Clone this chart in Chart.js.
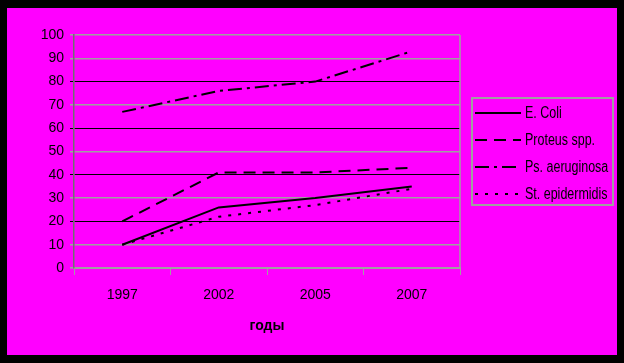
<!DOCTYPE html>
<html>
<head>
<meta charset="utf-8">
<script src="https://cdn.jsdelivr.net/npm/chart.js@4/dist/chart.umd.min.js"></script>
<style>
  body { margin: 0; background: #000; width: 624px; height: 363px; overflow: hidden; }
  #wrap { position: absolute; left: 7px; top: 8px; width: 610px; height: 347px; background: #ff00ff; }
  canvas { display: block; }
</style>
</head>
<body>
<div id="wrap"><canvas id="chart" width="610" height="347"></canvas></div>
<script>
// data
const years = ["1997", "2002", "2005", "2007"];
const eColi = [10, 26, 30, 35];
const proteus = [20, 41, 41, 43];
const psAeruginosa = [67, 76, 80, 93];
const stEpidermidis = [10, 22, 27, 34];
const seriesNames = ["E. Coli", "Proteus spp.", "Ps. aeruginosa", "St. epidermidis"];
const xTitle = "годы";

const sans = "'Liberation Sans', Arial, sans-serif";

function line(label, data, dash) {
  return {
    label: label,
    data: data,
    borderColor: "#000",
    borderWidth: 2,
    borderDash: dash,
    pointRadius: 0,
    fill: false,
    tension: 0,
  };
}

// right edge of the plot and the boxed legend
const framePlugin = {
  id: "frame",
  afterDraw(chart) {
    const ctx = chart.ctx;
    const a = chart.chartArea;
    ctx.save();
    ctx.strokeStyle = "#a0a0a0";
    ctx.lineWidth = 1.5;
    ctx.beginPath();
    ctx.moveTo(a.right, a.top);
    ctx.lineTo(a.right, a.bottom);
    ctx.stroke();

    ctx.lineWidth = 2;
    ctx.strokeRect(465, 90, 141, 107);

    chart.data.datasets.forEach(function (ds, i) {
      const y = 105 + i * 27;
      ctx.strokeStyle = "#000";
      ctx.lineWidth = 2;
      ctx.setLineDash(ds.borderDash || []);
      ctx.beginPath();
      ctx.moveTo(468, y);
      ctx.lineTo(514, y);
      ctx.stroke();
      ctx.setLineDash([]);
      // narrow text like the original
      ctx.save();
      ctx.translate(518, y);
      ctx.scale(0.78, 1);
      ctx.font = "16px " + sans;
      ctx.textBaseline = "middle";
      ctx.fillStyle = "#000";
      ctx.fillText(ds.label, 0, 1);
      ctx.restore();
    });
    ctx.restore();
  },
};

new Chart(document.getElementById("chart").getContext("2d"), {
  type: "line",
  data: {
    labels: years,
    datasets: [
      line(seriesNames[0], eColi, []),
      line(seriesNames[1], proteus, [12, 7]),
      line(seriesNames[2], psAeruginosa, [14, 5, 3, 5]),
      line(seriesNames[3], stEpidermidis, [3, 7]),
    ],
  },
  options: {
    responsive: false,
    animation: false,
    layout: { padding: { left: 0, top: 27, right: 157, bottom: 0 } },
    plugins: {
      legend: { display: false },
      tooltip: { enabled: false },
    },
    scales: {
      x: {
        offset: true,
        afterFit: function (s) { s.height = 87; },
        grid: {
          offset: true,
          drawOnChartArea: false,
          drawTicks: true,
          tickLength: 7,
          color: "#a0a0a0",
        },
        border: { color: "#a0a0a0", width: 2 },
        ticks: {
          color: "#000",
          padding: 12,
          maxRotation: 0,
          font: { family: sans, size: 14 },
        },
        title: {
          display: true,
          text: xTitle,
          color: "#000",
          padding: { top: 0, bottom: 20 },
          font: { family: sans, size: 14, weight: "bold" },
        },
      },
      y: {
        min: 0,
        max: 100,
        afterFit: function (s) { s.width = 67; },
        ticks: {
          stepSize: 10,
          color: "#000",
          padding: 6,
          font: { family: sans, size: 14 },
        },
        grid: {
          tickLength: 4,
          color: function (c) {
            const v = c.tick ? c.tick.value : 0;
            return v === 20 || v === 40 || v === 60 || v === 80 ? "#000" : "#a0a0a0";
          },
          lineWidth: function (c) {
            const v = c.tick ? c.tick.value : 0;
            return v === 20 || v === 40 || v === 60 || v === 80 ? 1 : 1.5;
          },
        },
        border: { color: "#707070", width: 1.5 },
      },
    },
  },
  plugins: [framePlugin],
});
</script>
</body>
</html>
